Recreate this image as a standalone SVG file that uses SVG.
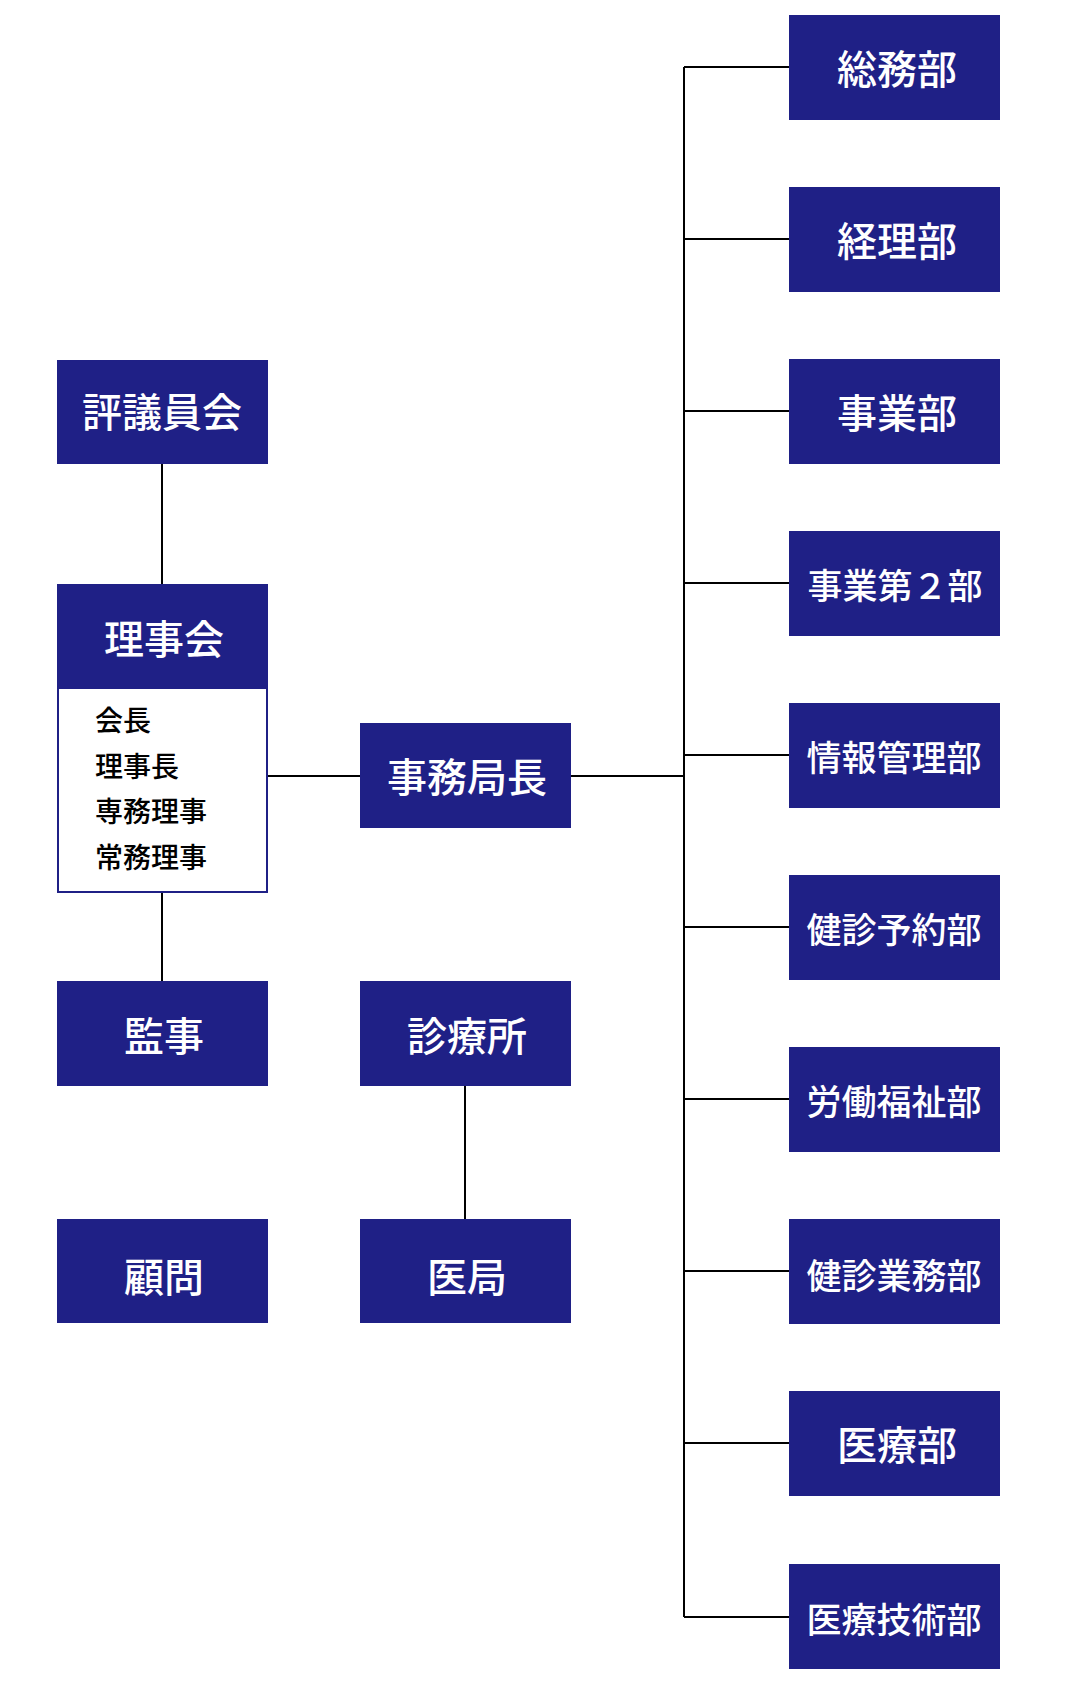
<svg xmlns="http://www.w3.org/2000/svg" width="1075" height="1690" viewBox="0 0 1075 1690">
<style>
.b{fill:#1f2086}
.t{fill:#fff;font-family:"Noto Sans CJK JP",sans-serif;font-size:40px;font-weight:500;text-anchor:middle;dominant-baseline:central}
.s{font-size:35px}
.m{fill:#000;font-family:"Noto Sans CJK JP",sans-serif;font-size:28px;font-weight:500}
.c{stroke:#000;stroke-width:2;fill:none}
</style>
<rect width="1075" height="1690" fill="#fff"/>
<g id="connectors" class="c">
<line x1="162" y1="464" x2="162" y2="584"/>
<line x1="162" y1="893" x2="162" y2="981"/>
<line x1="268" y1="776" x2="360" y2="776"/>
<line x1="571" y1="776" x2="684" y2="776"/>
<line x1="465" y1="1086" x2="465" y2="1219"/>
<line x1="684" y1="67" x2="684" y2="1617"/>
<line x1="684" y1="67" x2="789" y2="67"/>
<line x1="684" y1="239" x2="789" y2="239"/>
<line x1="684" y1="411" x2="789" y2="411"/>
<line x1="684" y1="583" x2="789" y2="583"/>
<line x1="684" y1="755" x2="789" y2="755"/>
<line x1="684" y1="927" x2="789" y2="927"/>
<line x1="684" y1="1099" x2="789" y2="1099"/>
<line x1="684" y1="1271" x2="789" y2="1271"/>
<line x1="684" y1="1443" x2="789" y2="1443"/>
<line x1="684" y1="1617" x2="789" y2="1617"/>
</g>
<g id="n1"><rect class="b" x="57" y="360" width="211" height="104"/><text class="t" x="162" y="410">評議員会</text></g>
<g id="n2"><rect x="58" y="585" width="209" height="307" fill="#fff" stroke="#1f2086" stroke-width="2"/><rect class="b" x="57" y="584" width="211" height="105"/><text class="t" x="164" y="637">理事会</text>
<text class="m" x="95" y="731">会長</text><text class="m" x="95" y="777">理事長</text><text class="m" x="95" y="822">専務理事</text><text class="m" x="95" y="868">常務理事</text></g>
<g id="n3"><rect class="b" x="360" y="723" width="211" height="105"/><text class="t" x="467" y="775">事務局長</text></g>
<g id="n4"><rect class="b" x="57" y="981" width="211" height="105"/><text class="t" x="164" y="1034">監事</text></g>
<g id="n5"><rect class="b" x="360" y="981" width="211" height="105"/><text class="t" x="467" y="1034">診療所</text></g>
<g id="n6"><rect class="b" x="57" y="1219" width="211" height="104"/><text class="t" x="164" y="1275">顧問</text></g>
<g id="n7"><rect class="b" x="360" y="1219" width="211" height="104"/><text class="t" x="467" y="1275">医局</text></g>
<g id="r1"><rect class="b" x="789" y="15" width="211" height="105"/><text class="t" x="897" y="67">総務部</text></g>
<g id="r2"><rect class="b" x="789" y="187" width="211" height="105"/><text class="t" x="897" y="239">経理部</text></g>
<g id="r3"><rect class="b" x="789" y="359" width="211" height="105"/><text class="t" x="897" y="411">事業部</text></g>
<g id="r4"><rect class="b" x="789" y="531" width="211" height="105"/><text class="t s" x="895" y="583">事業第２部</text></g>
<g id="r5"><rect class="b" x="789" y="703" width="211" height="105"/><text class="t s" x="894" y="755">情報管理部</text></g>
<g id="r6"><rect class="b" x="789" y="875" width="211" height="105"/><text class="t s" x="894" y="927">健診予約部</text></g>
<g id="r7"><rect class="b" x="789" y="1047" width="211" height="105"/><text class="t s" x="894" y="1099">労働福祉部</text></g>
<g id="r8"><rect class="b" x="789" y="1219" width="211" height="105"/><text class="t s" x="894" y="1273">健診業務部</text></g>
<g id="r9"><rect class="b" x="789" y="1391" width="211" height="105"/><text class="t" x="897" y="1443">医療部</text></g>
<g id="r10"><rect class="b" x="789" y="1564" width="211" height="105"/><text class="t s" x="894" y="1617">医療技術部</text></g>
</svg>
